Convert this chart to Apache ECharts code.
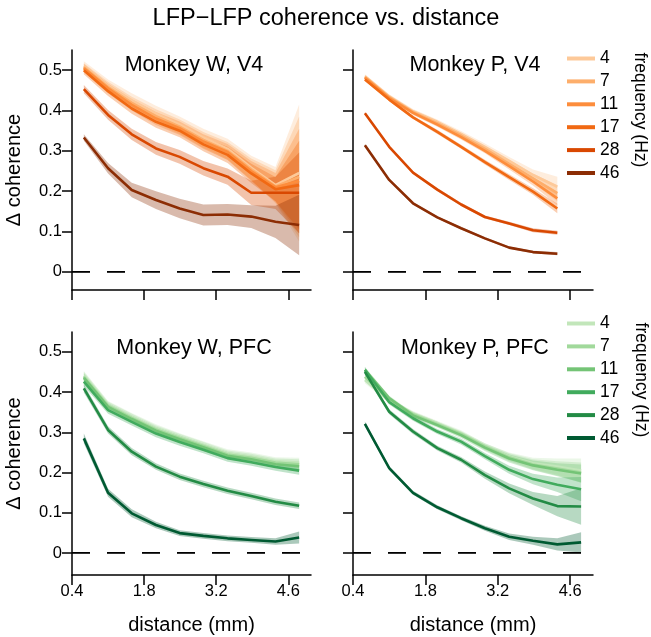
<!DOCTYPE html>
<html>
<head>
<meta charset="utf-8">
<script src="https://cdn.jsdelivr.net/npm/echarts@6/dist/echarts.min.js"></script>
<style>
  html, body { margin: 0; padding: 0; background: #fff; }
  #main { width: 651px; height: 637px; }
</style>
</head>
<body>
<div id="main"></div>
<script>
// distances (mm) of the electrode-pair bins
var distW = [0.63, 1.1, 1.56, 2.03, 2.49, 2.95, 3.42, 3.88, 4.35, 4.81];
var distP = [0.63, 1.1, 1.56, 2.03, 2.49, 2.95, 3.42, 3.88, 4.35];
var distPpfc = [0.63, 1.1, 1.56, 2.03, 2.49, 2.95, 3.42, 3.88, 4.35, 4.81];

var freqs = ['4', '7', '11', '17', '28', '46'];
var xTicks = [0.4, 1.8, 3.2, 4.6];
var yTicks = [0, 0.1, 0.2, 0.3, 0.4, 0.5];

var oranges = ['#fdc999', '#fdae6b', '#fd8d3c', '#f16913', '#d94801', '#8c2d04'];
var greens = ['#c2e6ba', '#a1d99b', '#74c476', '#41ab5d', '#238b45', '#005a32'];

// Monkey W, V4 (mean, sem)
var wV4 = [
  [0.510, 0.462, 0.425, 0.392, 0.365, 0.333, 0.305, 0.258, 0.215, 0.245],
  [0.507, 0.458, 0.419, 0.386, 0.360, 0.327, 0.300, 0.254, 0.212, 0.235],
  [0.505, 0.455, 0.414, 0.380, 0.356, 0.323, 0.297, 0.250, 0.210, 0.225],
  [0.500, 0.448, 0.405, 0.372, 0.350, 0.316, 0.290, 0.244, 0.205, 0.215],
  [0.453, 0.389, 0.341, 0.306, 0.285, 0.257, 0.236, 0.196, 0.196, 0.196],
  [0.333, 0.257, 0.203, 0.178, 0.157, 0.141, 0.142, 0.137, 0.124, 0.116]
];
var wV4err = [
  [0.012, 0.015, 0.018, 0.020, 0.020, 0.022, 0.025, 0.030, 0.045, 0.170],
  [0.010, 0.013, 0.015, 0.017, 0.018, 0.020, 0.022, 0.027, 0.040, 0.150],
  [0.010, 0.012, 0.014, 0.016, 0.017, 0.018, 0.020, 0.025, 0.035, 0.130],
  [0.010, 0.012, 0.013, 0.015, 0.016, 0.017, 0.020, 0.024, 0.030, 0.110],
  [0.010, 0.012, 0.014, 0.016, 0.017, 0.018, 0.020, 0.030, 0.040, 0.100],
  [0.008, 0.013, 0.018, 0.022, 0.024, 0.026, 0.026, 0.028, 0.040, 0.075]
];

// Monkey P, V4
var pV4 = [
  [0.485, 0.435, 0.398, 0.372, 0.342, 0.310, 0.275, 0.240, 0.211],
  [0.483, 0.433, 0.396, 0.368, 0.338, 0.305, 0.268, 0.232, 0.195],
  [0.481, 0.431, 0.394, 0.365, 0.334, 0.300, 0.262, 0.224, 0.182],
  [0.477, 0.427, 0.383, 0.347, 0.310, 0.272, 0.235, 0.199, 0.157],
  [0.393, 0.310, 0.246, 0.204, 0.167, 0.136, 0.120, 0.103, 0.097],
  [0.314, 0.228, 0.170, 0.135, 0.108, 0.083, 0.060, 0.049, 0.045]
];
var pV4err = [
  [0.005, 0.005, 0.006, 0.006, 0.007, 0.008, 0.010, 0.014, 0.025],
  [0.005, 0.005, 0.005, 0.006, 0.006, 0.007, 0.009, 0.012, 0.020],
  [0.004, 0.004, 0.005, 0.005, 0.006, 0.006, 0.008, 0.010, 0.016],
  [0.004, 0.004, 0.004, 0.005, 0.005, 0.006, 0.007, 0.008, 0.012],
  [0.003, 0.003, 0.003, 0.004, 0.004, 0.004, 0.004, 0.005, 0.005],
  [0.003, 0.003, 0.003, 0.003, 0.003, 0.003, 0.003, 0.003, 0.004]
];

// Monkey W, PFC
var wPFC = [
  [0.440, 0.368, 0.338, 0.310, 0.288, 0.268, 0.248, 0.240, 0.228, 0.225],
  [0.438, 0.366, 0.336, 0.307, 0.286, 0.266, 0.245, 0.237, 0.225, 0.221],
  [0.435, 0.363, 0.333, 0.304, 0.283, 0.263, 0.242, 0.233, 0.221, 0.216],
  [0.426, 0.355, 0.326, 0.297, 0.276, 0.257, 0.236, 0.226, 0.214, 0.205],
  [0.409, 0.306, 0.252, 0.215, 0.190, 0.172, 0.155, 0.142, 0.128, 0.118],
  [0.285, 0.150, 0.099, 0.070, 0.050, 0.043, 0.037, 0.033, 0.029, 0.039]
];
var wPFCerr = [
  [0.012, 0.010, 0.010, 0.010, 0.010, 0.010, 0.010, 0.010, 0.010, 0.012],
  [0.012, 0.010, 0.010, 0.010, 0.010, 0.010, 0.010, 0.010, 0.010, 0.012],
  [0.011, 0.009, 0.009, 0.009, 0.009, 0.009, 0.009, 0.009, 0.009, 0.010],
  [0.011, 0.009, 0.009, 0.009, 0.009, 0.009, 0.009, 0.009, 0.009, 0.010],
  [0.010, 0.009, 0.009, 0.008, 0.008, 0.008, 0.008, 0.008, 0.008, 0.008],
  [0.012, 0.010, 0.010, 0.008, 0.007, 0.007, 0.007, 0.007, 0.008, 0.015]
];

// Monkey P, PFC
var pPFC = [
  [0.430, 0.378, 0.347, 0.323, 0.298, 0.265, 0.240, 0.223, 0.215, 0.205],
  [0.438, 0.380, 0.345, 0.320, 0.296, 0.265, 0.238, 0.220, 0.210, 0.200],
  [0.455, 0.385, 0.342, 0.318, 0.293, 0.262, 0.235, 0.218, 0.207, 0.198],
  [0.455, 0.375, 0.335, 0.302, 0.277, 0.241, 0.207, 0.184, 0.170, 0.159],
  [0.450, 0.351, 0.302, 0.261, 0.232, 0.194, 0.161, 0.136, 0.117, 0.116],
  [0.321, 0.211, 0.150, 0.114, 0.087, 0.062, 0.041, 0.031, 0.022, 0.027]
];
var pPFCerr = [
  [0.008, 0.006, 0.006, 0.006, 0.007, 0.008, 0.010, 0.014, 0.020, 0.030],
  [0.008, 0.006, 0.006, 0.006, 0.007, 0.008, 0.010, 0.013, 0.018, 0.025],
  [0.007, 0.006, 0.006, 0.006, 0.007, 0.008, 0.010, 0.012, 0.016, 0.022],
  [0.007, 0.006, 0.006, 0.006, 0.007, 0.008, 0.010, 0.013, 0.018, 0.030],
  [0.007, 0.006, 0.006, 0.006, 0.007, 0.009, 0.012, 0.016, 0.025, 0.045],
  [0.006, 0.005, 0.005, 0.005, 0.005, 0.006, 0.008, 0.010, 0.015, 0.025]
];

var panels = [
  {title: 'Monkey W, V4', x: distW, m: wV4, e: wV4err, colors: oranges, prefix: 'o'},
  {title: 'Monkey P, V4', x: distP, m: pV4, e: pV4err, colors: oranges, prefix: 'o'},
  {title: 'Monkey W, PFC', x: distW, m: wPFC, e: wPFCerr, colors: greens, prefix: 'g'},
  {title: 'Monkey P, PFC', x: distPpfc, m: pPFC, e: pPFCerr, colors: greens, prefix: 'g'}
];

var grids = [
  {left: 72, top: 50, width: 239, height: 240},
  {left: 353, top: 50, width: 240, height: 240},
  {left: 72, top: 332, width: 239, height: 243},
  {left: 353, top: 332, width: 240, height: 243}
];
var yRange = [[-0.045, 0.55], [-0.045, 0.55], [-0.054, 0.549], [-0.054, 0.549]];
var xRange = [0.4, 5.04];

var FONT = 'Liberation Sans, Arial, sans-serif';

var xAxes = [], yAxes = [], series = [];
grids.forEach(function (g, i) {
  var bottom = i >= 2, left = i % 2 === 0;
  xAxes.push({
    type: 'value', gridIndex: i, min: xRange[0], max: xRange[1],
    name: bottom ? 'distance (mm)' : '', nameLocation: 'middle', nameGap: 40,
    nameTextStyle: {fontSize: 20, color: '#000', fontFamily: FONT},
    splitLine: {show: false},
    axisLine: {onZero: false, lineStyle: {color: '#000', width: 1.5}},
    axisTick: {show: true, length: 10, lineStyle: {color: '#000', width: 1.5}, customValues: xTicks},
    axisLabel: {show: bottom, customValues: xTicks, margin: 8, fontSize: 16.5, color: '#000', fontFamily: FONT,
      formatter: function (v) { return v.toFixed(1); }}
  });
  yAxes.push({
    type: 'value', gridIndex: i, min: yRange[i][0], max: yRange[i][1],
    name: left ? '\u0394 coherence' : '', nameLocation: 'middle', nameGap: 48,
    nameTextStyle: {fontSize: 20, color: '#000', fontFamily: FONT},
    splitLine: {show: false},
    axisLine: {onZero: false, lineStyle: {color: '#000', width: 1.5}},
    axisTick: {show: true, length: 10, lineStyle: {color: '#000', width: 1.5}, customValues: yTicks},
    axisLabel: {show: left, customValues: yTicks, margin: 10, fontSize: 16.5, color: '#000', fontFamily: FONT,
      formatter: function (v) { return v === 0 ? '0' : v.toFixed(1); }}
  });
});

function bandSeries(idx, xs, lo, hi, color) {
  return {
    type: 'custom', xAxisIndex: idx, yAxisIndex: idx, silent: true, z: 1,
    data: [[xs[0], lo[0]]],
    renderItem: function (params, api) {
      var pts = [];
      for (var k = 0; k < xs.length; k++) pts.push(api.coord([xs[k], lo[k]]));
      for (var k2 = xs.length - 1; k2 >= 0; k2--) pts.push(api.coord([xs[k2], hi[k2]]));
      return {type: 'polygon', shape: {points: pts}, style: {fill: color, opacity: 0.33}};
    }
  };
}

// dashed horizontal line at y = 0, dashes laid out in pixels
function zeroLine(idx) {
  return {
    type: 'custom', xAxisIndex: idx, yAxisIndex: idx, silent: true, z: 10,
    data: [[xRange[0], 0.1]],
    renderItem: function (params, api) {
      var a = api.coord([xRange[0], 0]), b = api.coord([xRange[1], 0]);
      var y = Math.round(a[1]);
      var parts = [];
      for (var x = a[0]; x < b[0]; x += 35) {
        parts.push({type: 'rect', shape: {x: x, y: y - 1, width: Math.min(18, b[0] - x), height: 1.8},
          style: {fill: '#000'}});
      }
      return {type: 'group', children: parts};
    }
  };
}

panels.forEach(function (p, i) {
  p.m.forEach(function (vals, j) {
    var lo = vals.map(function (v, k) { return v - p.e[j][k]; });
    var hi = vals.map(function (v, k) { return v + p.e[j][k]; });
    series.push(bandSeries(i, p.x, lo, hi, p.colors[j]));
  });
  p.m.forEach(function (vals, j) {
    series.push({
      type: 'line', name: p.prefix + freqs[j], xAxisIndex: i, yAxisIndex: i,
      data: vals.map(function (v, k) { return [p.x[k], v]; }),
      symbol: 'none', z: 3,
      itemStyle: {color: p.colors[j]},
      lineStyle: {color: p.colors[j], width: 2.6}
    });
  });
  series.push(zeroLine(i));
});

function legendFor(prefix, top) {
  return {
    orient: 'vertical', left: 562, top: top, itemWidth: 28, itemHeight: 4, itemGap: 4.9,
    icon: 'path://M0,0H28V4H0Z', selectedMode: false,
    data: freqs.map(function (f) { return prefix + f; }),
    formatter: function (n) { return n.slice(1); },
    textStyle: {fontSize: 17.5, color: '#000', fontFamily: FONT, lineHeight: 17}
  };
}

var graphics = [
  {type: 'text', x: 326, y: 19, style: {text: 'LFP\u2212LFP coherence vs. distance', font: '23.5px ' + FONT, fill: '#000', textAlign: 'center', textVerticalAlign: 'middle'}},
  {type: 'text', x: 194, y: 65, style: {text: panels[0].title, font: '21.5px ' + FONT, fill: '#000', textAlign: 'center', textVerticalAlign: 'middle'}},
  {type: 'text', x: 475, y: 65, style: {text: panels[1].title, font: '21.5px ' + FONT, fill: '#000', textAlign: 'center', textVerticalAlign: 'middle'}},
  {type: 'text', x: 194, y: 348, style: {text: panels[2].title, font: '21.5px ' + FONT, fill: '#000', textAlign: 'center', textVerticalAlign: 'middle'}},
  {type: 'text', x: 475, y: 348, style: {text: panels[3].title, font: '21.5px ' + FONT, fill: '#000', textAlign: 'center', textVerticalAlign: 'middle'}},
  {type: 'text', x: 640, y: 110, rotation: -Math.PI / 2, style: {text: 'frequency (Hz)', font: '17.5px ' + FONT, fill: '#000', textAlign: 'center', textVerticalAlign: 'middle'}},
  {type: 'text', x: 641, y: 380, rotation: -Math.PI / 2, style: {text: 'frequency (Hz)', font: '17.5px ' + FONT, fill: '#000', textAlign: 'center', textVerticalAlign: 'middle'}}
];

var option = {
  animation: false,
  backgroundColor: '#fff',
  grid: grids,
  xAxis: xAxes,
  yAxis: yAxes,
  legend: [legendFor('o', 44.5), legendFor('g', 309.5)],
  graphic: graphics,
  series: series
};

var chart = echarts.init(document.getElementById('main'));
chart.setOption(option);
</script>
</body>
</html>
